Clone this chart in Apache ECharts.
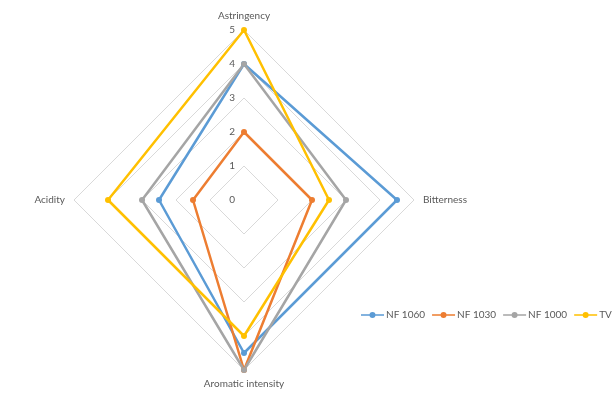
<!DOCTYPE html>
<html>
<head>
<meta charset="utf-8">
<script src="https://cdn.jsdelivr.net/npm/echarts@6/dist/echarts.min.js"></script>
<style>
  html, body { margin: 0; padding: 0; background: #fff; }
  #chart { width: 616px; height: 398px; }
</style>
</head>
<body>
<div id="chart"></div>
<script>
// Indicators in ECharts drawing order (counter-clockwise from top)
var categories = ['Astringency', 'Acidity', 'Aromatic intensity', 'Bitterness'];
var maxValue = 5;
var seriesNames = ['NF 1060', 'NF 1030', 'NF 1000', 'TV'];
var nf1060 = [4, 2.5, 4.5, 4.5];
var nf1030 = [2, 1.5, 5, 2];
var nf1000 = [4, 3, 5, 3];
var tv = [5, 4, 4, 2.5];
var colors = ['#5B9BD5', '#ED7D31', '#A5A5A5', '#FFC000'];

var values = [nf1060, nf1030, nf1000, tv];
var FONT = 'Lato, "Open Sans", sans-serif';

var indicator = categories.map(function (c, i) {
  var ind = { name: c, max: maxValue, min: 0 };
  if (i === 0) {
    ind.axisLabel = { show: true, color: '#595959', fontSize: 10, fontFamily: FONT, margin: 9 };
  }
  return ind;
});

var chart = echarts.init(document.getElementById('chart'), null, { renderer: 'canvas' });
chart.setOption({
  animation: false,
  color: colors,
  legend: {
    data: seriesNames,
    orient: 'horizontal',
    left: 361,
    top: 310,
    width: 500,
    padding: 0,
    itemWidth: 23,
    itemHeight: 8,
    itemGap: 7,
    icon: 'path://M0,3.2 L23,3.2 L23,4.8 L0,4.8 Z M11.5,1 A3,3 0 1,1 11.49,1 Z',
    textStyle: { color: '#595959', fontSize: 10, fontFamily: FONT, width: 38, overflow: 'none', padding: [0, 0, 0, -3] }
  },
  radar: {
    center: [244, 200],
    radius: 170,
    shape: 'polygon',
    splitNumber: 5,
    indicator: indicator,
    nameGap: 9,
    axisName: { color: '#595959', fontSize: 10, fontFamily: FONT },
    axisLine: { show: false },
    axisTick: { show: false },
    axisLabel: { show: false },
    splitLine: { lineStyle: { color: '#D9D9D9', width: 1 } },
    splitArea: { show: false }
  },
  series: [{
    type: 'radar',
    symbol: 'circle',
    symbolSize: 6,
    lineStyle: { width: 2.5 },
    data: seriesNames.map(function (n, i) {
      return {
        name: n,
        value: values[i],
        itemStyle: { color: colors[i] },
        lineStyle: { color: colors[i], width: 2.5 }
      };
    })
  }]
});
</script>
</body>
</html>
